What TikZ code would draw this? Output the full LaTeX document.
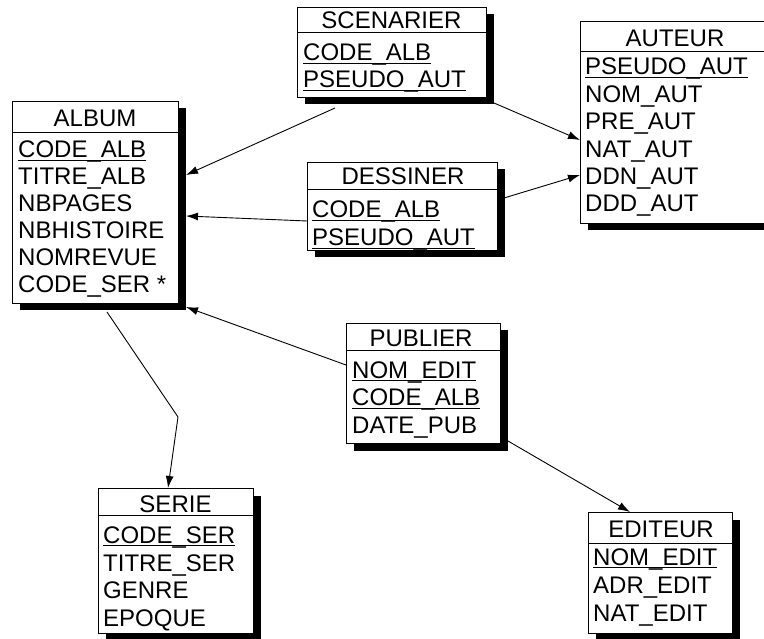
\documentclass[tikz,border=0pt]{standalone}
\usepackage{fontspec}
\setmainfont{Liberation Sans}
\usetikzlibrary{arrows.meta,calc,shadows}
\begin{document}
\begin{tikzpicture}[x=1pt,y=-1pt,
  ent/.style={draw=black, line width=1pt, fill=white, inner sep=0pt, anchor=north west,
    drop shadow={shadow xshift=7pt, shadow yshift=-7pt, fill=black, opacity=1}},
  sep/.style={line width=1pt},
  hdr/.style={inner sep=0pt, anchor=base, font=\fontsize{24}{27}\selectfont},
  fld/.style={inner sep=0pt, anchor=base west, font=\fontsize{24}{27}\selectfont},
  ul/.style={line width=1pt},
  arr/.style={line width=0.9pt, -{Latex[length=12pt,width=8pt]}}
]
\useasboundingbox (0,0) rectangle (764,639);
\clip (0,0) rectangle (764,639);
\newcommand\pkline[1]{\draw[ul] ([yshift=-2.5pt]#1.base west) -- ([yshift=-2.5pt]#1.base east);}

% ALBUM
\node[ent, minimum width=166pt, minimum height=202pt] (album) at (12,101) {};
\draw[sep] (12,133) -- (178,133);
\node[hdr] (albumh) at (95,127) {ALBUM};
\node[fld] (album1) at (18,158) {CODE\_ALB}; \pkline{album1}
\node[fld] (album2) at (18,185) {TITRE\_ALB};
\node[fld] (album3) at (18,212) {NBPAGES};
\node[fld] (album4) at (18,239) {NBHISTOIRE};
\node[fld] (album5) at (18,266) {NOMREVUE};
\node[fld] (album6) at (18,293) {CODE\_SER *};

% SCENARIER
\node[ent, minimum width=189pt, minimum height=90pt] (scen) at (297,7) {};
\draw[sep] (297,33) -- (486,33);
\node[hdr] (scenh) at (391.5,29) {SCENARIER};
\node[fld] (scen1) at (303,61) {CODE\_ALB}; \pkline{scen1}
\node[fld] (scen2) at (303,88) {PSEUDO\_AUT}; \pkline{scen2}

% AUTEUR
\node[ent, minimum width=195pt, minimum height=202pt] (aut) at (580,21) {};
\draw[sep] (580,52) -- (775,52);
\node[hdr] (auth) at (675,47) {AUTEUR};
\node[fld] (aut1) at (585,75) {PSEUDO\_AUT}; \pkline{aut1}
\node[fld] (aut2) at (585,102.4) {NOM\_AUT};
\node[fld] (aut3) at (585,129.8) {PRE\_AUT};
\node[fld] (aut4) at (585,157.2) {NAT\_AUT};
\node[fld] (aut5) at (585,184.6) {DDN\_AUT};
\node[fld] (aut6) at (585,212) {DDD\_AUT};

% DESSINER
\node[ent, minimum width=190pt, minimum height=88pt] (dess) at (307,162) {};
\draw[sep] (307,190) -- (497,190);
\node[hdr] (dessh) at (403,185) {DESSINER};
\node[fld] (dess1) at (312,218) {CODE\_ALB}; \pkline{dess1}
\node[fld] (dess2) at (312,246) {PSEUDO\_AUT}; \pkline{dess2}

% PUBLIER
\node[ent, minimum width=154pt, minimum height=120pt] (pub) at (346,323) {};
\draw[sep] (346,351) -- (500,351);
\node[hdr] (pubh) at (421,347) {PUBLIER};
\node[fld] (pub1) at (352,378) {NOM\_EDIT}; \pkline{pub1}
\node[fld] (pub2) at (352,406) {CODE\_ALB}; \pkline{pub2}
\node[fld] (pub3) at (352,433) {DATE\_PUB};

% SERIE
\node[ent, minimum width=155pt, minimum height=145pt] (serie) at (98,488) {};
\draw[sep] (98,515) -- (253,515);
\node[hdr] (serieh) at (175.5,512) {SERIE};
\node[fld] (serie1) at (103,543) {CODE\_SER}; \pkline{serie1}
\node[fld] (serie2) at (103,571) {TITRE\_SER};
\node[fld] (serie3) at (103,598) {GENRE};
\node[fld] (serie4) at (103,626) {EPOQUE};

% EDITEUR
\node[ent, minimum width=144pt, minimum height=121pt] (edit) at (588,512) {};
\draw[sep] (588,543) -- (732,543);
\node[hdr] (edith) at (661,537) {EDITEUR};
\node[fld] (edit1) at (593,565) {NOM\_EDIT}; \pkline{edit1}
\node[fld] (edit2) at (593,593) {ADR\_EDIT};
\node[fld] (edit3) at (593,621) {NAT\_EDIT};

% connectors
\draw[arr] ($(scen.south west)+(38,10)$) -- ($(album.north east)+(7,74)$);
\draw[arr] ($(scen.south east)+(7,5)$) -- ($(aut.north west)+(0,119)$);
\draw[arr] ($(dess.north west)+(0,59)$) -- ($(album.north east)+(7,115)$);
\draw[arr] ($(dess.north east)+(6,36)$) -- ($(aut.north west)+(0,154)$);
\draw[arr] ($(pub.north west)+(0,42)$) -- ($(album.south east)+(7,3)$);
\draw[arr] ($(pub.south east)+(7,-3)$) -- ($(edit.north west)+(42,0)$);
\coordinate (bend) at (178,417);
\draw[arr] ($(album.south west)+(95,8)$) -- (bend) -- ($(serie.north west)+(70,0)$);
\end{tikzpicture}
\end{document}
